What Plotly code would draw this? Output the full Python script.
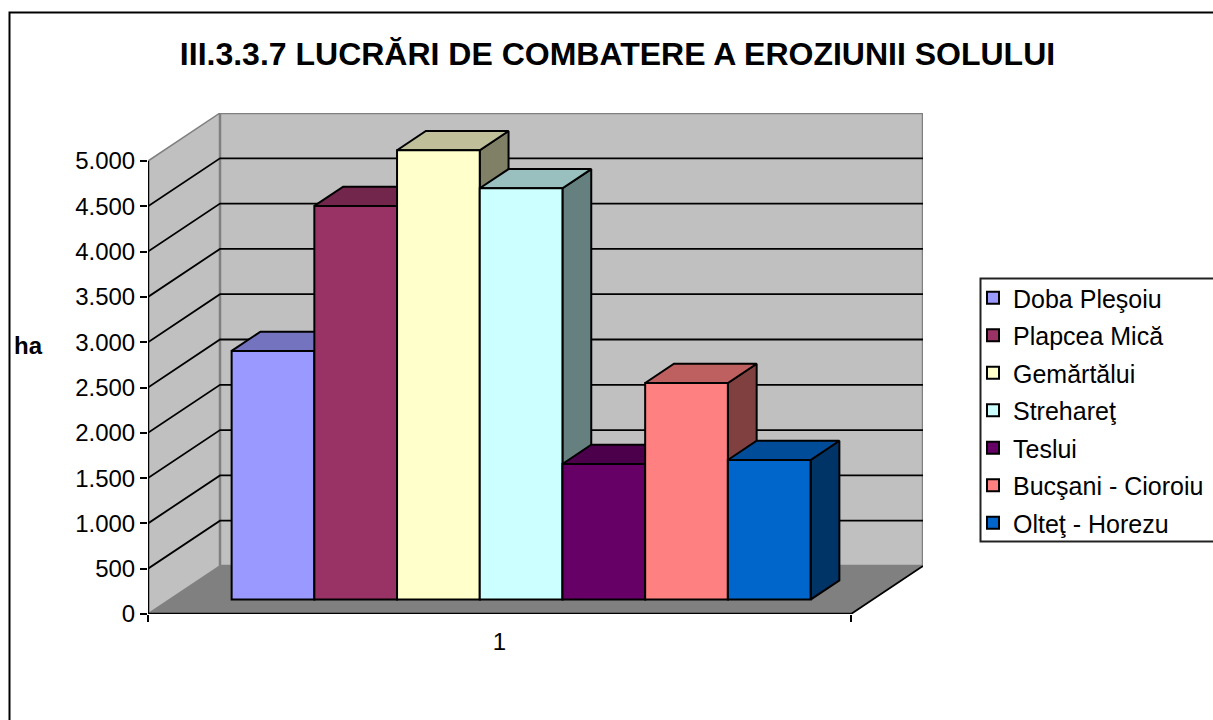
import plotly.graph_objects as go

title = "III.3.3.7 LUCRĂRI DE COMBATERE A EROZIUNII SOLULUI"
unit_label = "ha"
category_label = "1"
series_names = ["Doba Pleşoiu", "Plapcea Mică", "Gemărtălui", "Strehareţ", "Teslui", "Bucşani - Cioroiu", "Olteţ - Horezu"]
series_values = [2745, 4345, 4960, 4540, 1497, 2391, 1541]
series_colors = ["#9999FF", "#993366", "#FFFFCC", "#CCFFFF", "#660066", "#FF8080", "#0066CC"]
y_ticks = [0, 500, 1000, 1500, 2000, 2500, 3000, 3500, 4000, 4500, 5000]

# Oblique projection: depth 0..1 shifts a point right by DX axis units and up by DY value units
DX = 72 / 703
DY = 530
NEAR, FAR = 0.3, 0.7
FONT = "Liberation Sans, Arial, sans-serif"
W, H = 1213, 720
L, T, R, B = 148, 113, W - 923, H - 614
PW, PH = W - L - R, H - T - B


def shade(hex_color, k):
    r, g, b = (int(hex_color[i:i + 2], 16) for i in (1, 3, 5))
    return f"rgb({round(r * k)},{round(g * k)},{round(b * k)})"


def pr(x, v, d):
    return x + d * DX, v + d * DY


def poly(points, fill, line_color, line_width, z=0, name=None):
    xs, ys = zip(*[pr(*p) for p in points])
    return go.Scatter(x=list(xs) + [xs[0]], y=list(ys) + [ys[0]], mode="lines", fill="toself",
                      fillcolor=fill, line=dict(color=line_color, width=line_width),
                      showlegend=False, hoverinfo="skip", zorder=z, cliponaxis=False)


def seg(points, color, width, z=0, **kw):
    xs, ys = zip(*[pr(*p) for p in points])
    return go.Scatter(x=xs, y=ys, mode="lines", line=dict(color=color, width=width),
                      showlegend=False, hoverinfo="skip", zorder=z, cliponaxis=False, **kw)


fig = go.Figure()
top = y_ticks[-1]
# walls and floor
fig.add_trace(poly([(0, 0, 0), (0, 0, 1), (1, 0, 1), (1, 0, 0)], "#808080", "#808080", 1))
fig.add_trace(poly([(0, 0, 0), (0, top, 0), (0, top, 1), (0, 0, 1)], "#C0C0C0", "#808080", 1.5))
fig.add_trace(poly([(0, 0, 1), (0, top, 1), (1, top, 1), (1, 0, 1)], "#C0C0C0", "#808080", 2.5))
for t in y_ticks[1:-1]:
    fig.add_trace(seg([(0, t, 0), (0, t, 1), (1, t, 1)], "black", 1.8))
fig.add_trace(seg([(1, 0, 0), (1, 0, 1)], "black", 1.8))

# bars
n = len(series_values)
gap = 0.75
unit = 1 / (n + 2 * gap)
for i, (name, v, c) in enumerate(zip(series_names, series_values, series_colors)):
    x0 = (gap + i) * unit
    x1 = x0 + unit
    z = 2 * i + 1
    fig.add_trace(poly([(x1, 0, NEAR), (x1, 0, FAR), (x1, v, FAR), (x1, v, NEAR)], shade(c, 0.5), "black", 2, z))
    fig.add_trace(poly([(x0, v, NEAR), (x0, v, FAR), (x1, v, FAR), (x1, v, NEAR)], shade(c, 0.75), "black", 2, z))
    fig.add_trace(go.Bar(x=[(x0 + x1) / 2 + NEAR * DX], y=[v], base=[NEAR * DY], width=[unit], name=name,
                         marker=dict(color=c, line=dict(color="black", width=2)),
                         legendgroup=name, zorder=z + 1, hovertemplate="%{fullData.name}: %{y}<extra></extra>"))

# axis lines
fig.add_trace(seg([(0, 0, 0), (0, top, 0)], "black", 2.5, 40))
fig.add_trace(seg([(0, 0, 0), (1, 0, 0)], "black", 2.5, 40, xaxis="x2"))

fig.update_layout(
    width=W, height=H, margin=dict(l=L, r=R, t=T, b=B, autoexpand=False),
    paper_bgcolor="white", plot_bgcolor="white", barmode="overlay", separators=",.",
    font=dict(family=FONT, color="black", size=22),
    title=dict(text=f"<b>{title}</b>", x=617.5 / W, xanchor="center", y=1 - 54 / H, yanchor="middle",
               font=dict(size=32, family=FONT, color="black")),
    xaxis=dict(range=[0, 1 + DX], tickvals=[0, 1], ticktext=["", ""], ticks="outside", ticklen=7, tickwidth=2,
               tickcolor="black", showgrid=False, zeroline=False, showline=False),
    xaxis2=dict(range=[0, 1 + DX], overlaying="x", tickvals=[0.5], ticktext=[category_label], ticks="outside",
                ticklen=6, tickcolor="rgba(0,0,0,0)", showgrid=False, zeroline=False, showline=False,
                tickfont=dict(size=24)),
    yaxis=dict(range=[0, top + DY], tickvals=y_ticks, tickformat=",.0f", ticks="outside", ticklen=7, tickwidth=2,
               tickcolor="black", showgrid=False, zeroline=False, showline=False, tickfont=dict(size=24)),
    legend=dict(x=(973 - L) / PW, xanchor="left", y=1 - (275 - T) / PH, yanchor="top", bgcolor="rgba(0,0,0,0)",
                borderwidth=0, font=dict(size=25), traceorder="grouped",
                tracegroupgap=2, itemclick=False, itemdoubleclick=False),
    annotations=[dict(text=f"<b>{unit_label}</b>", xref="paper", yref="paper", x=(28.5 - L) / PW,
                      y=1 - (345 - T) / PH, showarrow=False, xanchor="center", yanchor="middle",
                      font=dict(size=24, family=FONT, color="black"))],
    shapes=[dict(type="rect", xref="paper", yref="paper", x0=(9.5 - L) / PW, x1=(W + 20 - L) / PW,
                 y0=1 - (H + 20 - T) / PH, y1=1 - (12.5 - T) / PH, line=dict(color="black", width=2),
                 fillcolor="rgba(0,0,0,0)", layer="below"),
            dict(type="rect", xref="paper", yref="paper", x0=(980.5 - L) / PW, x1=(W + 20 - L) / PW,
                 y0=1 - (541.5 - T) / PH, y1=1 - (278.5 - T) / PH, line=dict(color="#222222", width=2),
                 fillcolor="rgba(0,0,0,0)", layer="below")],
)

fig.write_html("out.html", config=dict(displayModeBar=False),
               post_script="document.body.style.margin='0';document.body.style.overflow='hidden';")
